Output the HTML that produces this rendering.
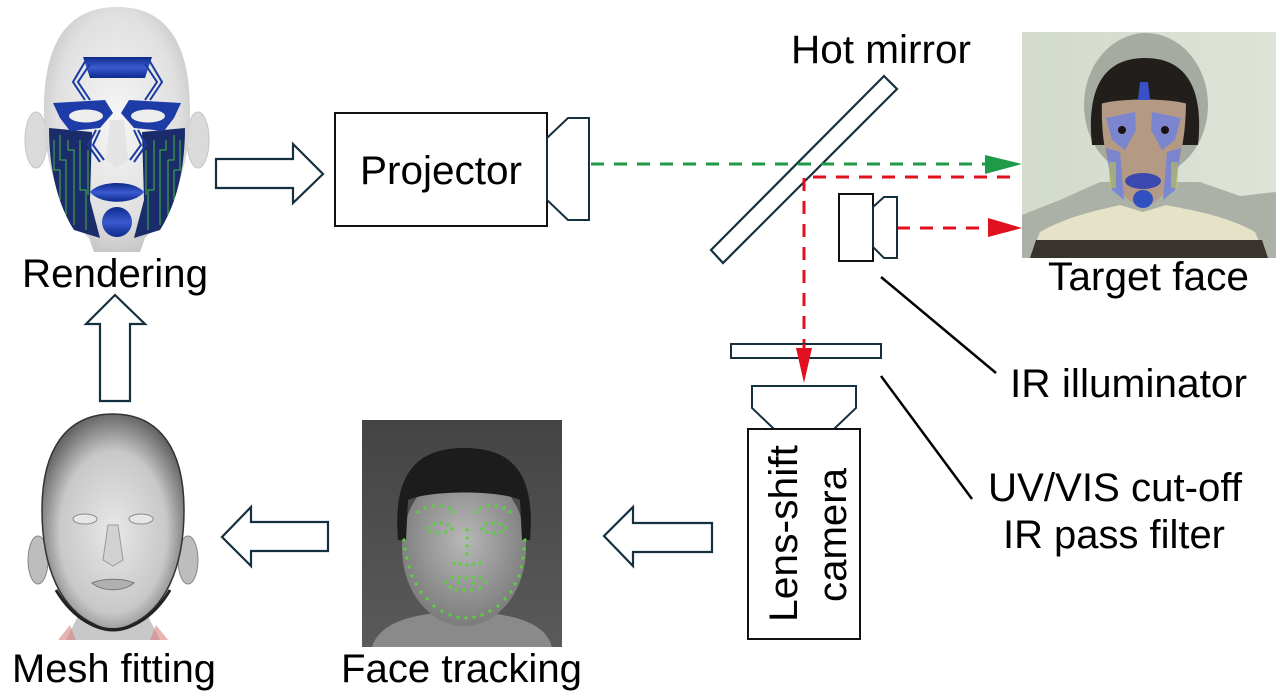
<!DOCTYPE html>
<html><head><meta charset="utf-8"><style>
html,body{margin:0;padding:0;background:#fff;}
svg{display:block;}
text{font-family:"Liberation Sans",Arial,sans-serif;fill:#000;}
</style></head><body>
<svg width="1280" height="700" viewBox="0 0 1280 700" xmlns="http://www.w3.org/2000/svg">
<defs>
<radialGradient id="hg" cx="50%" cy="45%" r="60%"><stop offset="0" stop-color="#f6f6f6"/><stop offset="0.7" stop-color="#e0e0e0"/><stop offset="1" stop-color="#c0c0c0"/></radialGradient>
<radialGradient id="mg" cx="50%" cy="55%" r="58%"><stop offset="0" stop-color="#e8e8e8"/><stop offset="0.65" stop-color="#c8c8c8"/><stop offset="1" stop-color="#5a5a5a"/></radialGradient>
<linearGradient id="bl" x1="0" y1="0" x2="0" y2="1"><stop offset="0" stop-color="#0e2a8a"/><stop offset="0.5" stop-color="#3a5ad0"/><stop offset="1" stop-color="#0e2a8a"/></linearGradient>
<linearGradient id="ftbg" x1="0" y1="0" x2="0" y2="1"><stop offset="0" stop-color="#444"/><stop offset="1" stop-color="#5a5a5a"/></linearGradient>
<radialGradient id="ftface" cx="50%" cy="45%" r="55%"><stop offset="0" stop-color="#b8b8b8"/><stop offset="1" stop-color="#7c7c7c"/></radialGradient>
<linearGradient id="tbg" x1="0" y1="0" x2="1" y2="0"><stop offset="0" stop-color="#d3dbcc"/><stop offset="1" stop-color="#dee3d8"/></linearGradient>
</defs>

<!-- ===== Rendering head ===== -->
<ellipse cx="36" cy="140" rx="11" ry="28" fill="#dadada" stroke="#c4c4c4"/>
<ellipse cx="198" cy="140" rx="11" ry="28" fill="#dadada" stroke="#c4c4c4"/>
<path d="M117,7 C168,7 190,45 190,110 C190,170 172,212 145,238 L140,252 H94 L89,238 C62,212 44,170 44,110 C44,45 66,7 117,7 Z" fill="url(#hg)"/>
<path d="M49,128 L92,132 L90,200 L100,238 L74,230 C58,205 49,170 49,128 Z" fill="#1a2c6a"/>
<path d="M185,128 L142,132 L144,200 L134,238 L160,230 C176,205 185,170 185,128 Z" fill="#1a2c6a"/>
<g stroke="#49c83e" stroke-width="1" fill="none" opacity="0.9">
<path d="M54,140 V170 H60 V200 M60,135 V160 H66 V215 M68,140 V150 H74 V225 M80,140 V190 H86 V230 M88,150 V195"/>
<path d="M180,140 V170 H174 V200 M174,135 V160 H168 V215 M166,140 V150 H160 V225 M154,140 V190 H148 V230 M146,150 V195"/>
</g>
<path d="M83,57 H152 L145,78 H90 Z" fill="url(#bl)"/>
<g stroke="#1a3aa0" stroke-width="2" fill="none">
<polyline points="86,60 73,82 85,100"/><polyline points="90,64 78,82 90,100"/>
<polyline points="149,60 162,82 150,100"/><polyline points="145,64 157,82 145,100"/>
<polyline points="96,130 88,145 100,162"/><polyline points="100,130 93,145 104,160"/>
<polyline points="138,130 146,145 134,162"/><polyline points="134,130 141,145 130,160"/>
</g>
<path d="M53,103 L105,100 L113,113 L100,128 L70,131 L60,118 Z" fill="#1e3ca8"/>
<path d="M181,103 L129,100 L121,113 L134,128 L164,131 L174,118 Z" fill="#1e3ca8"/>
<ellipse cx="86" cy="116" rx="17" ry="6.5" fill="#eeeeee"/>
<ellipse cx="148" cy="116" rx="17" ry="6.5" fill="#eeeeee"/>
<path d="M110,120 L106,160 L117,168 L128,160 L124,120 Z" fill="#e4e4e4"/>
<path d="M90,192 C100,180 134,180 144,192 C134,205 100,205 90,192 Z" fill="url(#bl)"/>
<ellipse cx="117" cy="222" rx="15" ry="15" fill="url(#bl)"/>

<!-- ===== Target face photo ===== -->
<rect x="1022" y="32" width="254" height="226" fill="url(#tbg)"/>
<ellipse cx="1146" cy="105" rx="62" ry="72" fill="#a6ab a1" style="fill:#a6aba1"/>
<path d="M1022,215 L1060,200 L1100,182 L1200,182 L1240,196 L1276,192 V258 H1022 Z" fill="#acb1a8"/>
<path d="M1092,145 C1086,88 1104,58 1145,58 C1186,58 1204,88 1198,145 Z" fill="#221e1b"/>
<path d="M1102,100 C1100,150 1112,200 1143,207 C1174,200 1186,150 1186,100 C1168,94 1120,94 1102,100 Z" fill="#b49a84"/>
<path d="M1100,96 C1112,82 1176,82 1188,96 L1188,104 C1168,98 1120,98 1100,104 Z" fill="#221e1b"/>
<path d="M1140,82 L1148,82 L1150,100 L1138,100 Z" fill="#3a50c8"/>
<g fill="#7282dc" opacity="0.85">
<path d="M1106,118 L1135,112 L1136,130 L1125,150 L1112,140 Z"/>
<path d="M1181,118 L1152,112 L1151,130 L1162,150 L1175,140 Z"/>
<path d="M1106,148 L1120,152 L1124,200 L1112,190 Z"/>
<path d="M1181,148 L1167,152 L1163,200 L1175,190 Z"/>
</g>
<g fill="#c6c640" opacity="0.55"><rect x="1109" y="162" width="7" height="26"/><rect x="1171" y="162" width="7" height="26"/></g>
<circle cx="1122" cy="130" r="4" fill="#1a1410"/><circle cx="1165" cy="130" r="4" fill="#1a1410"/>
<ellipse cx="1143" cy="181" rx="18" ry="8" fill="#3a48b0"/>
<ellipse cx="1143" cy="199" rx="10" ry="9" fill="#3050c0"/>
<path d="M1030,258 L1040,232 C1070,215 1100,210 1120,205 L1143,212 L1166,205 C1190,210 1225,215 1255,232 L1266,258 Z" fill="#e6e2c8"/>
<path d="M1036,240 H1262 L1268,258 H1030 Z" fill="#39332d"/>

<!-- ===== Face tracking photo ===== -->
<rect x="362" y="420" width="200" height="227" fill="url(#ftbg)"/>
<path d="M372,647 C380,620 420,612 462,612 C505,612 545,620 552,647 Z" fill="#8a8a8a"/>
<ellipse cx="464" cy="548" rx="62" ry="78" fill="url(#ftface)"/>
<path d="M398,540 C392,470 420,448 464,448 C510,448 536,470 530,540 L522,540 L520,500 C500,490 430,490 408,500 L406,540 Z" fill="#1c1c1c"/>
<g fill="#5ad03c">
<circle cx="418" cy="512" r="1.6"/><circle cx="425" cy="508" r="1.6"/><circle cx="433" cy="506" r="1.6"/><circle cx="441" cy="506" r="1.6"/><circle cx="449" cy="508" r="1.6"/><circle cx="453" cy="512" r="1.6"/>
<circle cx="475" cy="512" r="1.6"/><circle cx="480" cy="508" r="1.6"/><circle cx="488" cy="506" r="1.6"/><circle cx="496" cy="506" r="1.6"/><circle cx="504" cy="508" r="1.6"/><circle cx="510" cy="512" r="1.6"/>
<circle cx="428" cy="528" r="1.6"/><circle cx="434" cy="524" r="1.6"/><circle cx="441" cy="523" r="1.6"/><circle cx="448" cy="525" r="1.6"/><circle cx="452" cy="529" r="1.6"/><circle cx="446" cy="532" r="1.6"/><circle cx="438" cy="533" r="1.6"/><circle cx="431" cy="532" r="1.6"/>
<circle cx="482" cy="529" r="1.6"/><circle cx="486" cy="524" r="1.6"/><circle cx="493" cy="523" r="1.6"/><circle cx="500" cy="524" r="1.6"/><circle cx="506" cy="528" r="1.6"/><circle cx="501" cy="532" r="1.6"/><circle cx="494" cy="533" r="1.6"/><circle cx="487" cy="532" r="1.6"/>
<circle cx="467" cy="530" r="1.6"/><circle cx="467" cy="538" r="1.6"/><circle cx="467" cy="546" r="1.6"/><circle cx="467" cy="554" r="1.6"/>
<circle cx="454" cy="563" r="1.6"/><circle cx="460" cy="564" r="1.6"/><circle cx="467" cy="565" r="1.6"/><circle cx="474" cy="564" r="1.6"/><circle cx="480" cy="563" r="1.6"/>
<circle cx="446" cy="582" r="1.6"/><circle cx="452" cy="578" r="1.6"/><circle cx="459" cy="577" r="1.6"/><circle cx="466" cy="578" r="1.6"/><circle cx="473" cy="577" r="1.6"/><circle cx="480" cy="578" r="1.6"/><circle cx="486" cy="582" r="1.6"/><circle cx="480" cy="588" r="1.6"/><circle cx="472" cy="590" r="1.6"/><circle cx="464" cy="590" r="1.6"/><circle cx="456" cy="590" r="1.6"/><circle cx="450" cy="587" r="1.6"/><circle cx="458" cy="583" r="1.6"/><circle cx="474" cy="583" r="1.6"/>
<circle cx="404" cy="540" r="1.6"/><circle cx="405" cy="549" r="1.6"/><circle cx="407" cy="558" r="1.6"/><circle cx="409" cy="567" r="1.6"/><circle cx="412" cy="576" r="1.6"/><circle cx="416" cy="584" r="1.6"/><circle cx="421" cy="592" r="1.6"/><circle cx="427" cy="599" r="1.6"/><circle cx="434" cy="606" r="1.6"/><circle cx="442" cy="611" r="1.6"/><circle cx="450" cy="615" r="1.6"/><circle cx="458" cy="617" r="1.6"/><circle cx="466" cy="618" r="1.6"/><circle cx="474" cy="617" r="1.6"/><circle cx="482" cy="615" r="1.6"/><circle cx="490" cy="611" r="1.6"/><circle cx="498" cy="606" r="1.6"/><circle cx="505" cy="599" r="1.6"/><circle cx="511" cy="592" r="1.6"/><circle cx="515" cy="584" r="1.6"/><circle cx="519" cy="576" r="1.6"/><circle cx="521" cy="567" r="1.6"/><circle cx="523" cy="558" r="1.6"/><circle cx="524" cy="549" r="1.6"/><circle cx="525" cy="540" r="1.6"/>
</g>

<!-- ===== Mesh head ===== -->
<ellipse cx="38" cy="560" rx="10" ry="24" fill="#bdbdbd" stroke="#888"/>
<ellipse cx="188" cy="560" rx="10" ry="24" fill="#bdbdbd" stroke="#888"/>
<path d="M146,612 L160,640 H66 L80,612 Z" fill="#c8c8c8"/>
<path d="M58,640 L70,625 L76,640 Z M168,640 L156,625 L150,640 Z" fill="#d98080" opacity="0.6"/>
<path d="M113,414 C160,414 184,450 184,510 C184,568 165,610 130,625 C120,630 106,630 96,625 C61,610 42,568 42,510 C42,450 66,414 113,414 Z" fill="url(#mg)" stroke="#333" stroke-width="1.5"/>
<path d="M56,590 C75,622 100,630 113,630 C126,630 151,622 170,590" fill="none" stroke="#222" stroke-width="3"/>
<ellipse cx="85" cy="519" rx="12" ry="5" fill="#e6e6e6" stroke="#888"/>
<ellipse cx="141" cy="519" rx="12" ry="5" fill="#e6e6e6" stroke="#888"/>
<path d="M108,525 L103,560 L113,566 L123,560 L118,525 Z" fill="#d2d2d2" stroke="#9a9a9a"/>
<path d="M92,583 C103,578 123,578 134,583 C123,592 103,592 92,583 Z" fill="#b0b0b0" stroke="#777"/>

<!-- ===== Arrows (hollow) ===== -->
<g fill="#fff" stroke="#15303f" stroke-width="2.2" stroke-linejoin="miter">
<polygon points="216,159 293,159 293,144 323,174 293,203 293,188 216,188"/>
<polygon points="100,401 100,324 86,324 115,295 145,324 130,324 130,401"/>
<polygon points="328,522 251,522 251,507 222,537 251,566 251,551 328,551"/>
<polygon points="712,523 633,523 633,507 604,536 633,566 633,552 712,552"/>
</g>

<!-- ===== Projector ===== -->
<rect x="335" y="113" width="212" height="113" fill="#fff" stroke="#111" stroke-width="2"/>
<polygon points="547,138 568,118 589,118 589,220 568,220 547,200" fill="#fff" stroke="#15303f" stroke-width="2"/>

<!-- ===== Hot mirror ===== -->
<polygon points="711,250 884,76 897,89 723,263" fill="#fff" stroke="#15303f" stroke-width="2.2"/>

<!-- ===== Beams ===== -->
<line x1="591" y1="164" x2="985" y2="164" stroke="#1e9a48" stroke-width="3" stroke-dasharray="13,10"/>
<polygon points="985,155 1022,164 985,174" fill="#1e9a48"/>
<path d="M1010,177 H804 V347" fill="none" stroke="#e0101e" stroke-width="3" stroke-dasharray="13,10"/>
<line x1="897" y1="228" x2="988" y2="228" stroke="#e0101e" stroke-width="3" stroke-dasharray="13,10"/>
<polygon points="988,218 1022,228 988,237" fill="#e0101e"/>

<!-- ===== IR illuminator ===== -->
<rect x="839" y="194" width="34" height="67" fill="#fff" stroke="#111" stroke-width="2"/>
<polygon points="873,207 884,197 897,197 897,258 884,258 873,247" fill="#fff" stroke="#15303f" stroke-width="2"/>

<!-- ===== Filter + camera ===== -->
<rect x="731" y="344" width="150" height="14" fill="none" stroke="#15303f" stroke-width="2"/>
<line x1="804" y1="344" x2="804" y2="358" stroke="#e0101e" stroke-width="3"/>
<polygon points="796,348 812,348 804,383" fill="#e0101e"/>
<polygon points="752,386 856,386 856,408 834,429 774,429 752,408" fill="#fff" stroke="#15303f" stroke-width="2"/>
<rect x="748" y="429" width="112" height="210" fill="#fff" stroke="#111" stroke-width="2"/>

<!-- ===== Leader lines ===== -->
<line x1="881" y1="277" x2="996" y2="373" stroke="#000" stroke-width="2.5"/>
<line x1="881" y1="376" x2="972" y2="499" stroke="#000" stroke-width="2.5"/>

<!-- ===== Text ===== -->
<text x="791" y="63" font-size="40" textLength="180" lengthAdjust="spacingAndGlyphs">Hot mirror</text>
<text x="360" y="184" font-size="40" textLength="162" lengthAdjust="spacingAndGlyphs">Projector</text>
<text x="22" y="287" font-size="40" textLength="186" lengthAdjust="spacingAndGlyphs">Rendering</text>
<text x="1048" y="290" font-size="40" textLength="201" lengthAdjust="spacingAndGlyphs">Target face</text>
<text x="1010" y="397" font-size="40" textLength="237" lengthAdjust="spacingAndGlyphs">IR illuminator</text>
<text x="988" y="501" font-size="40" textLength="254" lengthAdjust="spacingAndGlyphs">UV/VIS cut-off</text>
<text x="1003" y="548" font-size="40" textLength="222" lengthAdjust="spacingAndGlyphs">IR pass filter</text>
<text x="12" y="682" font-size="40" textLength="204" lengthAdjust="spacingAndGlyphs">Mesh fitting</text>
<text x="341" y="682" font-size="40" textLength="241" lengthAdjust="spacingAndGlyphs">Face tracking</text>
<text transform="translate(797,622) rotate(-90)" font-size="40" textLength="177" lengthAdjust="spacingAndGlyphs">Lens-shift</text>
<text transform="translate(846,602) rotate(-90)" font-size="40" textLength="134" lengthAdjust="spacingAndGlyphs">camera</text>
</svg>
</body></html>
